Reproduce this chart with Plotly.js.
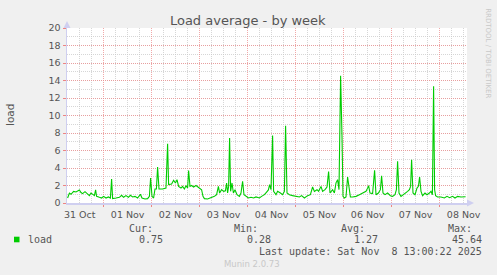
<!DOCTYPE html>
<html>
<head>
<meta charset="utf-8">
<script src="https://cdn.plot.ly/plotly-3.0.1.min.js"></script>
<style>
html,body{margin:0;padding:0;background:#f0f0f0;}
#chart{width:497px;height:275px;}
</style>
</head>
<body>
<div id="chart"></div>
<script>
// Hours since the graph start (Oct 31 ~05:40) and load values
const startTime = Date.UTC(2025, 9, 31, 5, 40);
const spanHours = 200;
const hours = [0.3,1.2,2.0,3.3,4.5,6.2,7.0,7.8,9.0,10.0,11.2,12.0,12.8,13.7,14.3,14.8,16.2,17.3,18.3,19.5,20.7,21.7,22.3,22.8,24.5,26.2,27.3,28.3,29.5,30.7,31.7,32.8,34.0,35.3,36.7,37.5,39.0,40.3,41.2,41.8,42.5,43.3,44.0,44.7,45.3,46.0,47.8,49.5,
  50.3,50.8,52.3,53.3,54.2,55.0,55.8,57.0,57.8,58.7,59.5,60.3,60.8,61.5,62.3,63.3,64.5,65.3,66.2,67.3,68.0,68.7,70.3,72.0,73.7,74.8,75.7,76.3,77.3,78.3,79.2,79.8,80.3,80.8,81.3,81.8,82.5,83.2,84.0,85.0,86.2,87.0,87.8,88.5,89.5,90.7,92.0,93.3,94.5,96.2,97.3,98.7,99.7,
  100.7,101.3,102.0,102.8,103.3,104.5,105.3,106.7,107.8,108.7,109.3,110.0,111.2,112.8,114.5,116.2,117.3,118.7,120.3,121.7,122.8,123.7,125.0,125.8,127.0,127.8,129.0,130.0,130.8,131.5,132.8,133.7,134.5,135.3,136.0,136.8,137.5,138.0,138.7,139.5,140.3,141.0,141.7,142.8,144.5,146.2,147.8,149.5,
  150.3,150.8,151.5,152.8,153.8,154.5,155.7,156.7,157.3,158.0,159.0,160.3,161.7,162.8,164.0,164.7,165.3,166.0,167.0,168.3,169.5,170.3,171.2,171.8,172.3,173.0,174.0,175.0,175.7,176.3,177.0,177.8,179.0,180.0,181.2,182.0,182.7,183.3,183.8,184.3,185.3,187.0,188.7,190.0,191.3,192.8,194.0,195.3,197.0,198.7,199.3];
const load = [0.57,1.14,1.0,1.33,1.26,1.49,1.2,1.07,1.3,1.07,0.84,1.14,1.0,0.84,1.49,0.76,0.65,0.57,0.76,0.57,0.69,0.57,2.74,0.5,0.57,0.65,0.88,0.65,0.84,0.65,0.88,0.69,0.76,0.57,1.0,0.57,0.46,0.5,0.76,2.86,0.76,0.57,1.6,1.6,4.1,1.6,1.6,1.7,
  6.78,2.1,2.17,2.6,2.29,2.67,1.9,1.71,1.9,1.6,1.98,1.71,3.7,1.9,2.0,1.83,2.0,1.83,1.71,1.52,0.76,0.5,0.46,0.57,0.76,0.95,1.9,1.14,1.52,1.33,1.4,2.29,1.14,1.9,7.43,1.33,2.29,1.14,1.52,0.95,0.76,1.14,2.48,0.95,0.76,0.57,0.65,0.57,0.69,0.57,0.76,0.95,1.22,
  1.5,2.1,1.52,7.7,1.33,0.95,1.33,1.14,0.95,1.33,8.84,1.14,0.95,0.84,0.76,0.69,0.84,0.57,0.84,0.95,1.83,1.33,1.52,1.33,1.9,1.33,1.52,1.83,3.6,1.14,1.52,1.14,2.3,2.67,1.52,14.55,7.6,0.76,0.57,0.69,2.97,1.52,0.69,0.69,0.76,0.95,1.14,1.33,
  1.7,1.98,1.14,1.07,3.73,0.95,1.14,1.52,3.12,1.14,0.95,1.14,0.84,0.76,0.95,1.52,4.76,1.14,0.76,0.95,1.22,1.33,1.52,1.9,4.95,1.14,0.95,1.71,1.9,2.97,1.33,0.84,1.14,0.95,1.14,1.33,0.95,13.33,1.52,0.84,0.69,0.69,0.57,0.76,0.61,0.76,0.57,0.76,0.69,0.76,0.72];
const yTicks = [0,2,4,6,8,10,12,14,16,18,20];
const titleText = 'Load average - by week';
const seriesName = 'load';
const statLabels = ['Cur:', 'Min:', 'Avg:', 'Max:'];
const statValues = ['0.75', '0.28', '1.27', '45.64'];
const lastUpdate = 'Last update: Sat Nov\u00a0 8 13:00:22 2025';
const footer = 'Munin 2.0.73';
const sideText = 'RRDTOOL / TOBI OETIKER';

function iso(ms){ return new Date(ms).toISOString().slice(0,19).replace('T',' '); }
const xs = hours.map(h => iso(startTime + h*3600000));
const xRange = [iso(startTime), iso(startTime + spanHours*3600000)];

// pixel helpers for decorations (plot area 67..467 x 28..203)
const L = 67, T = 28, W = 400, H = 175;
const px = p => (p - L) / W;
const py = p => (T + H - p) / H;

const mono = {family:'DejaVu Sans Mono, monospace', size:10, color:'#555555'};
const ann = [];
function addText(text, x, y, xanchor, font, extra){
  ann.push(Object.assign({text:text, xref:'paper', yref:'paper', x:px(x), y:py(y), xanchor:xanchor, yanchor:'middle', showarrow:false, borderpad:0, font:font}, extra||{}));
}
addText(seriesName, 26.7, 239.5, 'left', mono);
const labX = [127.7, 233.3, 340, 446.7];
const valX = [138.3, 246, 352.7, 446.7];
statLabels.forEach((s,i) => addText(s, labX[i], 228, 'left', mono));
statValues.forEach((s,i) => {
  if (i === 3) addText(s, 483, 239.5, 'right', mono);
  else addText(s, valX[i], 239.5, 'left', mono);
});
addText(lastUpdate, 483, 251.7, 'right', mono);
addText(footer, 223.3, 264, 'left', {family:'DejaVu Sans, sans-serif', size:8.5, color:'#c8c8c8'});
addText(sideText, 488.3, 53.5, 'center', {family:'DejaVu Sans, sans-serif', size:7, color:'#c8c8c8'}, {textangle:90});
addText('load', 10, 115, 'center', {family:'DejaVu Sans, sans-serif', size:10.5, color:'#555555'}, {textangle:-90});

const axisCol = '#cfcff0';
const majorGrid = 'rgba(236,140,140,0.75)';
const minorGrid = 'rgba(200,200,200,0.75)';
const shapes = [
  {type:'rect', xref:'paper', yref:'paper', x0:px(14), x1:px(19.5), y0:py(242.3), y1:py(236.7), fillcolor:'#00cc00', line:{width:0}},
  {type:'path', xref:'paper', yref:'paper', path:`M ${px(63.5)} ${py(28)} L ${px(70.5)} ${py(28)} L ${px(67)} ${py(21)} Z`, fillcolor:axisCol, line:{width:0}},
  {type:'path', xref:'paper', yref:'paper', path:`M ${px(467)} ${py(199.5)} L ${px(467)} ${py(206.5)} L ${px(474)} ${py(203)} Z`, fillcolor:axisCol, line:{width:0}}
];

const trace = {x:xs, y:load, type:'scatter', mode:'lines', line:{color:'#00cc00', width:1.1}, hoverinfo:'skip', showlegend:false};

const layout = {
  width:497, height:275,
  margin:{l:L, r:497-L-W, t:T, b:275-T-H, pad:0},
  paper_bgcolor:'#f0f0f0', plot_bgcolor:'#ffffff',
  showlegend:false,
  title:{text:titleText, x:0.4986, xanchor:'center', xref:'container', y:1-20/275, yanchor:'middle', yref:'container',
    font:{family:'DejaVu Sans, sans-serif', size:13, color:'#555555'}},
  xaxis:{type:'date', range:xRange, tick0:'2025-10-31 00:00', dtick:86400000, tickformat:'%d %b', ticklabelmode:'period',
    showgrid:true, gridcolor:majorGrid, griddash:'1px,1px', gridwidth:1,
    minor:{dtick:21600000, tick0:'2025-10-31 00:00', showgrid:true, gridcolor:minorGrid, griddash:'1px,1px', ticks:''},
    showline:true, linecolor:axisCol, linewidth:1.5, zeroline:false,
    ticks:'outside', ticklen:2, tickcolor:'rgba(236,120,120,0.9)',
    tickfont:{family:'DejaVu Sans, sans-serif', size:9.5, color:'#555555'}, fixedrange:true},
  yaxis:{range:[0,20], tickvals:yTicks, ticktext:yTicks.map(String),
    showgrid:true, gridcolor:majorGrid, griddash:'1px,1px', gridwidth:1,
    minor:{dtick:1, showgrid:true, gridcolor:minorGrid, griddash:'1px,1px', ticks:''},
    showline:true, linecolor:axisCol, linewidth:1.5, zeroline:false,
    ticks:'outside', ticklen:3, tickcolor:'rgba(236,120,120,0.9)',
    tickfont:{family:'DejaVu Sans, sans-serif', size:9.5, color:'#555555'}, fixedrange:true},
  annotations:ann,
  shapes:shapes
};

Plotly.newPlot('chart', [trace], layout, {staticPlot:true, displayModeBar:false});
</script>
</body>
</html>
